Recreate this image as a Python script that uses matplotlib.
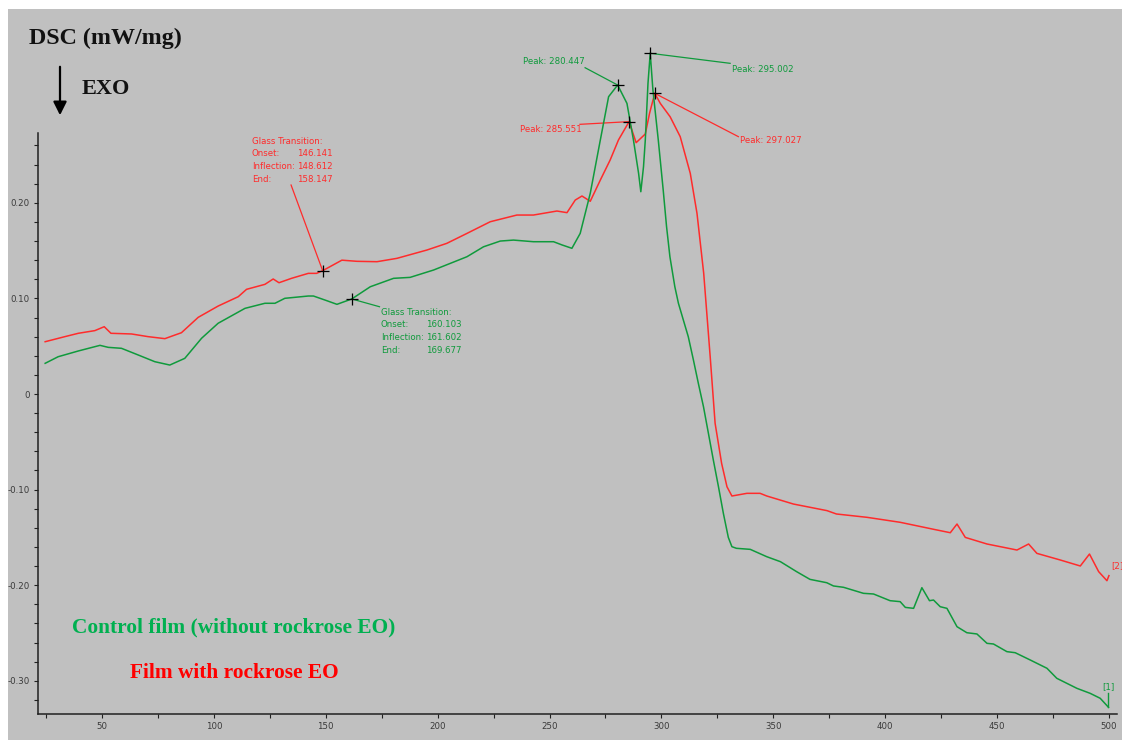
import numpy as np
import matplotlib
matplotlib.use("Agg")
import matplotlib.pyplot as plt
from matplotlib.patches import Rectangle, FancyArrowPatch
from matplotlib.ticker import MultipleLocator, FixedLocator

# ---- DSC thermograms: temperature (°C) and heat flow (mW/mg) ----
temp_eo = [24.6, 33.4, 39.4, 46.8, 51.0, 54.0, 63.2, 70.6, 78.1, 82.6, 85.5, 93.0,
           101.9, 110.9, 114.6, 122.8, 126.5, 129.1, 134.7, 142.2, 145.9, 148.612,
           157.2, 163.9, 172.9, 181.8, 195.2, 204.1, 213.1, 223.5, 235.4, 242.8,
           253.3, 257.8, 261.5, 264.5, 268.2, 272.7, 277.1, 280.8, 285.551, 288.7,
           292.8, 294.7, 297.027, 299.5, 303.9, 308.4, 312.9, 315.9, 318.9, 321.8,
           324.0, 326.9, 329.3, 331.5, 338.2, 344.1, 347.1, 359.0, 374.0, 378.2,
           391.9, 406.7, 421.6, 429.1, 432.1, 435.8, 445.5, 458.9, 464.1, 467.8,
           478.2, 487.2, 491.3, 495.4, 499.1, 500.0]
dsc_eo = [0.0547, 0.0600, 0.0635, 0.0663, 0.0704, 0.0635, 0.0628, 0.0600, 0.0579,
          0.0617, 0.0641, 0.0802, 0.0920, 0.1018, 0.1095, 0.1147, 0.1203, 0.1164,
          0.1210, 0.1262, 0.1262, 0.1290, 0.1400, 0.1388, 0.1384, 0.1419, 0.1506,
          0.1576, 0.1680, 0.1802, 0.1872, 0.1872, 0.1914, 0.1897, 0.2029, 0.2071,
          0.2016, 0.2238, 0.2448, 0.2657, 0.2849, 0.2629, 0.2720, 0.2936, 0.3145,
          0.3040, 0.2900, 0.2692, 0.2308, 0.1890, 0.1262, 0.0390, -0.0307, -0.0725,
          -0.0970, -0.1067, -0.1039, -0.1039, -0.1067, -0.1151, -0.1220, -0.1255,
          -0.1290, -0.1342, -0.1415, -0.1451, -0.1360, -0.1500, -0.1569, -0.1632,
          -0.1569, -0.1667, -0.1736, -0.1799, -0.1674, -0.1858, -0.1953, -0.1900]

temp_ctrl = [24.6, 30.4, 39.4, 49.1, 52.8, 58.7, 66.2, 73.6, 80.3, 87.0, 94.5, 101.9,
             113.9, 122.8, 127.3, 131.7, 142.2, 144.5, 150.0, 155.0, 161.602, 169.9,
             180.3, 187.7, 198.2, 213.1, 220.5, 228.0, 233.9, 242.8, 251.8, 255.5,
             260.0, 263.7, 268.2, 272.7, 276.4, 280.447, 284.6, 287.5, 289.8, 290.8,
             292.0, 292.8, 294.0, 295.002, 296.2, 298.6, 300.8, 302.3, 303.8, 306.0,
             307.6, 309.8, 312.0, 314.3, 316.5, 318.8, 321.0, 323.2, 325.5, 327.7,
             329.9, 331.5, 333.5, 339.7, 347.1, 353.2, 360.4, 366.4, 373.9, 376.9,
             381.4, 390.3, 394.8, 402.2, 406.7, 409.0, 412.7, 416.4, 419.8, 421.6,
             424.6, 427.6, 432.1, 436.5, 441.0, 445.5, 448.4, 454.4, 458.1, 464.8,
             472.3, 476.7, 485.7, 491.6, 496.1, 499.8]
dsc_ctrl = [0.0321, 0.0390, 0.0450, 0.0509, 0.0488, 0.0478, 0.0408, 0.0338, 0.0303,
            0.0373, 0.0583, 0.0740, 0.0896, 0.0949, 0.0949, 0.1001, 0.1025, 0.1025,
            0.0980, 0.0938, 0.0994, 0.1122, 0.1210, 0.1220, 0.1297, 0.1436, 0.1540,
            0.1600, 0.1610, 0.1593, 0.1593, 0.1560, 0.1524, 0.1680, 0.2099, 0.2657,
            0.3110, 0.3232, 0.3040, 0.2657, 0.2308, 0.2116, 0.2378, 0.2657, 0.3250,
            0.3564, 0.3180, 0.2657, 0.2134, 0.1750, 0.1436, 0.1122, 0.0949, 0.0774,
            0.0600, 0.0356, 0.0112, -0.0133, -0.0411, -0.0690, -0.0970, -0.1250,
            -0.1500, -0.1597, -0.1614, -0.1625, -0.1702, -0.1754, -0.1858, -0.1939,
            -0.1974, -0.2008, -0.2022, -0.2085, -0.2092, -0.2162, -0.2172, -0.2232,
            -0.2242, -0.2026, -0.2162, -0.2155, -0.2225, -0.2242, -0.2434, -0.2497,
            -0.2510, -0.2608, -0.2615, -0.2695, -0.2706, -0.2782, -0.2869, -0.2974,
            -0.3079, -0.3131, -0.3183, -0.3277]

# evaluated points (°C)
gt_eo = [146.141, 148.612, 158.147]      # onset, inflection, end
gt_ctrl = [160.103, 161.602, 169.677]
peaks_eo = [285.551, 297.027]
peaks_ctrl = [280.447, 295.002]

x_ticks = [50, 100, 150, 200, 250, 300, 350, 400, 450, 500]
y_ticks = [-0.30, -0.20, -0.10, 0.0, 0.10, 0.20]
y_ticklabels = ["-0.30", "-0.20", "-0.10", "0", "0.10", "0.20"]

RED = "#ff2b2b"
GREEN = "#0f9a3c"
GREEN_TXT = "#00b050"
TICK_C = "#3a3a3a"
SMALL = dict(family="DejaVu Sans", fontsize=6.2)

W, H = 1122, 740
fig = plt.figure(figsize=(W / 100, H / 100), dpi=100, facecolor="white")
fig.patches.append(Rectangle((8 / W, 0), 1, 1 - 9 / H, transform=fig.transFigure,
                             facecolor="#c0c0c0", edgecolor="none", zorder=-10))

ax = fig.add_axes([38 / W, (H - 713.5) / H, (1117 - 38) / W, (713.5 - 40) / H])
ax.set_facecolor("none")
ax.set_xlim(21.4, 503.6)
ax.set_ylim(-0.3342, 0.3703)
for s in ("top", "right"):
    ax.spines[s].set_visible(False)
ax.spines["left"].set_bounds(-0.3342, 0.2729)
for s in ("left", "bottom"):
    ax.spines[s].set_color("#202020")
    ax.spines[s].set_linewidth(1.1)

ax.xaxis.set_major_locator(FixedLocator(x_ticks))
ax.xaxis.set_minor_locator(MultipleLocator(25))
ax.yaxis.set_major_locator(FixedLocator(y_ticks))
ax.set_yticklabels(y_ticklabels)
ax.yaxis.set_minor_locator(FixedLocator(np.arange(-0.32, 0.27, 0.02)))
ax.tick_params(which="both", direction="out", length=3.2, width=0.8, color="#202020",
               labelsize=6.2, labelcolor=TICK_C, pad=3)
for lab in ax.get_xticklabels() + ax.get_yticklabels():
    lab.set_family("DejaVu Sans")

ax.plot(temp_eo, dsc_eo, color=RED, lw=1.1, clip_on=False, zorder=3)
ax.plot(temp_ctrl, dsc_ctrl, color=GREEN, lw=1.1, clip_on=False, zorder=3)

# curve end tags
end_eo = dsc_eo[-1]
end_ctrl = dsc_ctrl[-1]
ax.plot([temp_ctrl[-1], temp_ctrl[-1]], [end_ctrl, end_ctrl + 0.015], color=GREEN, lw=1.0,
        clip_on=False)
ax.text(temp_ctrl[-1], end_ctrl + 0.017, "[1]", color=GREEN, ha="center", va="bottom",
        clip_on=False, **SMALL)
ax.text(501.0, end_eo + 0.010, "[2]", color=RED, ha="left", va="center", clip_on=False,
        **SMALL)

def mark(t, temps, vals):
    y = float(np.interp(t, temps, vals))
    ax.plot([t], [y], marker="+", color="black", ms=8, mew=0.9, zorder=5, clip_on=False)
    return y

# glass transitions
y_gt = mark(gt_eo[1], temp_eo, dsc_eo)
ax.plot([134.5, gt_eo[1]], [0.2186, y_gt], color=RED, lw=0.9, zorder=4)
rows = [("Glass Transition:", ""), ("Onset:", f"{gt_eo[0]:.3f}"),
        ("Inflection:", f"{gt_eo[1]:.3f}"), ("End:", f"{gt_eo[2]:.3f}")]
for i, (k, v) in enumerate(rows):
    yy = 0.2646 - i * 0.01325
    ax.text(116.9, yy, k, color=RED, va="center", **SMALL)
    if v:
        ax.text(137.3, yy, v, color=RED, va="center", **SMALL)

y_gt = mark(gt_ctrl[1], temp_ctrl, dsc_ctrl)
ax.plot([gt_ctrl[1], 174.0], [y_gt, 0.0913], color=GREEN, lw=0.9, zorder=4)
rows = [("Glass Transition:", ""), ("Onset:", f"{gt_ctrl[0]:.3f}"),
        ("Inflection:", f"{gt_ctrl[1]:.3f}"), ("End:", f"{gt_ctrl[2]:.3f}")]
for i, (k, v) in enumerate(rows):
    yy = 0.0855 - i * 0.01317
    ax.text(174.6, yy, k, color=GREEN, va="center", **SMALL)
    if v:
        ax.text(194.8, yy, v, color=GREEN, va="center", **SMALL)

# peaks
yp = mark(peaks_ctrl[0], temp_ctrl, dsc_ctrl)
ax.plot([265.9, peaks_ctrl[0]], [0.3413, yp], color=GREEN, lw=0.9, clip_on=False)
ax.text(238.3, 0.3476, f"Peak: {peaks_ctrl[0]:.3f}", color=GREEN, va="center",
        clip_on=False, **SMALL)
yp = mark(peaks_ctrl[1], temp_ctrl, dsc_ctrl)
ax.plot([peaks_ctrl[1], 330.7], [yp, 0.3459], color=GREEN, lw=0.9, clip_on=False)
ax.text(331.4, 0.3392, f"Peak: {peaks_ctrl[1]:.3f}", color=GREEN, va="center",
        clip_on=False, **SMALL)
yp = mark(peaks_eo[0], temp_eo, dsc_eo)
ax.plot([263.6, peaks_eo[0]], [0.2821, yp], color=RED, lw=0.9, clip_on=False)
ax.text(236.8, 0.2762, f"Peak: {peaks_eo[0]:.3f}", color=RED, va="center",
        clip_on=False, **SMALL)
yp = mark(peaks_eo[1], temp_eo, dsc_eo)
ax.plot([peaks_eo[1], 334.4], [yp, 0.2692], color=RED, lw=0.9, clip_on=False)
ax.text(335.1, 0.2650, f"Peak: {peaks_eo[1]:.3f}", color=RED, va="center",
        clip_on=False, **SMALL)

# headings and series names
SERIF = dict(family=["Liberation Serif", "DejaVu Serif"], fontweight="bold")
fig.text(29 / W, 1 - 38 / H, "DSC (mW/mg)", fontsize=17.3, color="#111111",
         ha="left", va="center", **SERIF)
fig.text(82 / W, 1 - 89 / H, "EXO", fontsize=16, color="#111111",
         ha="left", va="center", **SERIF)
fig.patches.append(FancyArrowPatch((60 / W, 1 - 64 / H), (60 / W, 1 - 118 / H),
                                   transform=fig.transFigure, arrowstyle="-|>",
                                   mutation_scale=20, lw=1.6, color="black"))
fig.text(72 / W, 1 - 627 / H, "Control film (without rockrose EO)", fontsize=15.4,
         color=GREEN_TXT, ha="left", va="center", **SERIF)
fig.text(130 / W, 1 - 673 / H, "Film with rockrose EO", fontsize=15.4,
         color="#ff0000", ha="left", va="center", **SERIF)

fig.savefig("out.png", dpi=100, facecolor="white")
